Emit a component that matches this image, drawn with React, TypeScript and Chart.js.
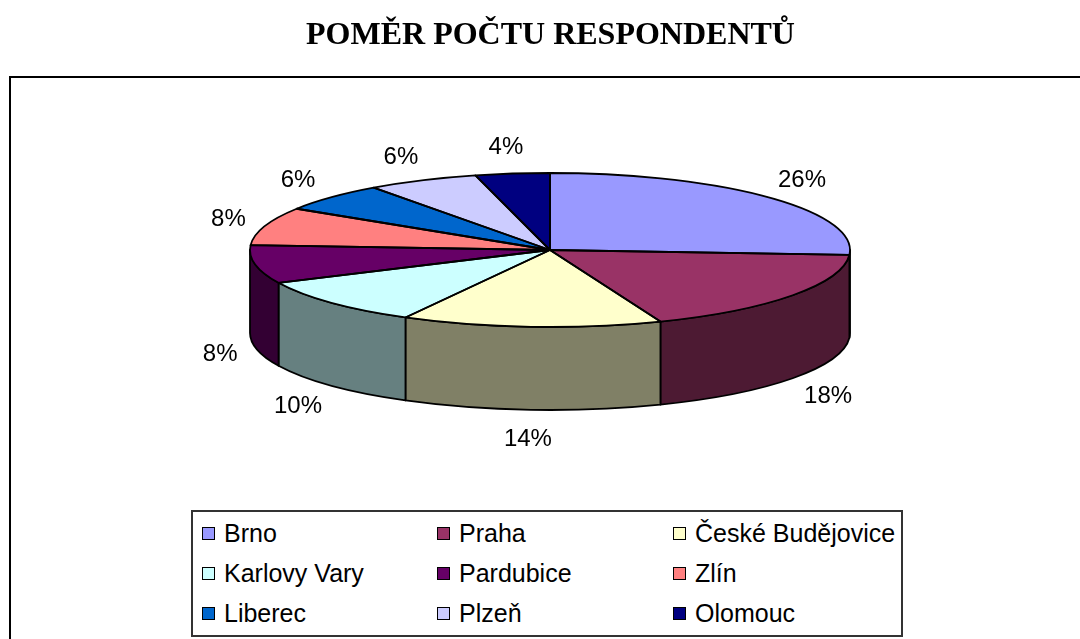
import React, { useEffect, useRef } from "react";
import { Chart, registerables } from "chart.js";

Chart.register(...registerables);

const titleText = "POMĚR POČTU RESPONDENTŮ";
const categories = [
  "Brno",
  "Praha",
  "České Budějovice",
  "Karlovy Vary",
  "Pardubice",
  "Zlín",
  "Liberec",
  "Plzeň",
  "Olomouc",
];
const values = [26, 18, 14, 10, 8, 8, 6, 6, 4];
const colors = [
  "#9999FF",
  "#993366",
  "#FFFFCC",
  "#CCFFFF",
  "#660066",
  "#FF8080",
  "#0066CC",
  "#CCCCFF",
  "#000080",
];

const W = 1080;
const H = 639;
// ellipse geometry of the 3D pie (layout only)
const CX = 550;
const CY = 250;
const RX = 300;
const RY = 77;
const DEPTH = 83;

function darken(hex: string, f = 0.5): string {
  const n = parseInt(hex.slice(1), 16);
  const r = Math.round(((n >> 16) & 255) * f);
  const g = Math.round(((n >> 8) & 255) * f);
  const b = Math.round((n & 255) * f);
  return `rgb(${r},${g},${b})`;
}

const pie3d = {
  id: "pie3d",
  beforeDatasetsDraw(chart: any) {
    const ctx = chart.ctx as CanvasRenderingContext2D;
    const meta = chart.getDatasetMeta(0);
    // side walls (front half only)
    ctx.save();
    ctx.lineWidth = 1.8;
    ctx.strokeStyle = "#000";
    ctx.lineJoin = "round";
    meta.data.forEach((arc: any, i: number) => {
      const s = Math.max(arc.startAngle, 0);
      const e = Math.min(arc.endAngle, Math.PI);
      if (e <= s) return;
      ctx.beginPath();
      ctx.ellipse(CX, CY, RX, RY, 0, s, e, false);
      ctx.lineTo(CX + RX * Math.cos(e), CY + RY * Math.sin(e) + DEPTH);
      ctx.ellipse(CX, CY + DEPTH, RX, RY, 0, e, s, true);
      ctx.closePath();
      ctx.fillStyle = darken(colors[i]);
      ctx.fill();
      ctx.stroke();
    });
    ctx.restore();
    // squash library-drawn circular pie into the top ellipse
    const a0 = meta.data[0];
    ctx.save();
    ctx.translate(CX, CY);
    ctx.scale(RX / a0.outerRadius, RY / a0.outerRadius);
    ctx.translate(-a0.x, -a0.y);
  },
  afterDatasetsDraw(chart: any) {
    const ctx = chart.ctx as CanvasRenderingContext2D;
    ctx.restore();
    const meta = chart.getDatasetMeta(0);
    const total = values.reduce((a, b) => a + b, 0);
    ctx.save();
    ctx.lineWidth = 1.8;
    ctx.strokeStyle = "#000";
    ctx.lineJoin = "round";
    meta.data.forEach((arc: any) => {
      const s = arc.startAngle;
      const e = arc.endAngle;
      ctx.beginPath();
      ctx.moveTo(CX, CY);
      ctx.lineTo(CX + RX * Math.cos(s), CY + RY * Math.sin(s));
      ctx.ellipse(CX, CY, RX, RY, 0, s, e, false);
      ctx.closePath();
      ctx.stroke();
    });
    // percentage labels
    ctx.fillStyle = "#000";
    ctx.font = '24px "Liberation Sans", Arial, sans-serif';
    ctx.textAlign = "center";
    ctx.textBaseline = "alphabetic";
    meta.data.forEach((arc: any, i: number) => {
      const m = (arc.startAngle + arc.endAngle) / 2;
      const c = Math.cos(m);
      const sn = Math.sin(m);
      const px = CX + RX * c;
      const py = CY + RY * sn + (sn > 0 ? DEPTH : 0);
      const lx = px + c * (32 + 20 * Math.abs(sn));
      const ly = py + sn * 28;
      const txt = Math.round((values[i] / total) * 100) + "%";
      ctx.fillText(txt, lx, ly + 8.6);
    });
    ctx.restore();
  },
};

export default function App() {
  const ref = useRef<HTMLCanvasElement | null>(null);

  useEffect(() => {
    if (!ref.current) return;
    const chart = new Chart(ref.current, {
      type: "pie",
      data: {
        labels: categories,
        datasets: [
          {
            data: values,
            backgroundColor: colors,
            borderWidth: 0,
          },
        ],
      },
      options: {
        responsive: false,
        maintainAspectRatio: false,
        animation: false,
        events: [],
        rotation: 0,
        plugins: {
          legend: { display: false },
          title: { display: false },
          tooltip: { enabled: false },
        },
      },
      plugins: [pie3d],
    });
    return () => chart.destroy();
  }, []);

  const colLeft = [9, 244, 480];

  return (
    <div
      style={{
        position: "absolute",
        left: 0,
        top: 0,
        width: W,
        height: H,
        overflow: "hidden",
        background: "#fff",
      }}
    >
      <div
        style={{
          position: "absolute",
          left: 9,
          top: 76,
          width: 1200,
          height: 800,
          border: "2px solid #000",
          boxSizing: "border-box",
        }}
      />
      <canvas
        ref={ref}
        width={W}
        height={H}
        style={{ position: "absolute", left: 0, top: 0, width: W, height: H }}
      />
      <div
        style={{
          position: "absolute",
          left: 0,
          top: 17,
          width: 1101,
          textAlign: "center",
          fontFamily: '"Liberation Serif", "Times New Roman", serif',
          fontWeight: "bold",
          fontSize: 32,
          lineHeight: "32px",
          color: "#000",
        }}
      >
        {titleText}
      </div>
      <div
        style={{
          position: "absolute",
          left: 191,
          top: 510,
          width: 712,
          height: 127,
          border: "2px solid #333",
          boxSizing: "border-box",
          background: "#fff",
        }}
      >
        {categories.map((name, i) => (
          <div
            key={name}
            style={{
              position: "absolute",
              left: colLeft[i % 3],
              top: 1 + Math.floor(i / 3) * 40,
              height: 40,
              display: "flex",
              alignItems: "center",
              fontFamily: '"Liberation Sans", Arial, sans-serif',
              fontSize: 25,
              lineHeight: "40px",
              whiteSpace: "nowrap",
              color: "#000",
            }}
          >
            <span
              style={{
                display: "inline-block",
                width: 11,
                height: 11,
                border: "1px solid #000",
                background: colors[i],
                marginRight: 9,
              }}
            />
            <span>{name}</span>
          </div>
        ))}
      </div>
    </div>
  );
}
